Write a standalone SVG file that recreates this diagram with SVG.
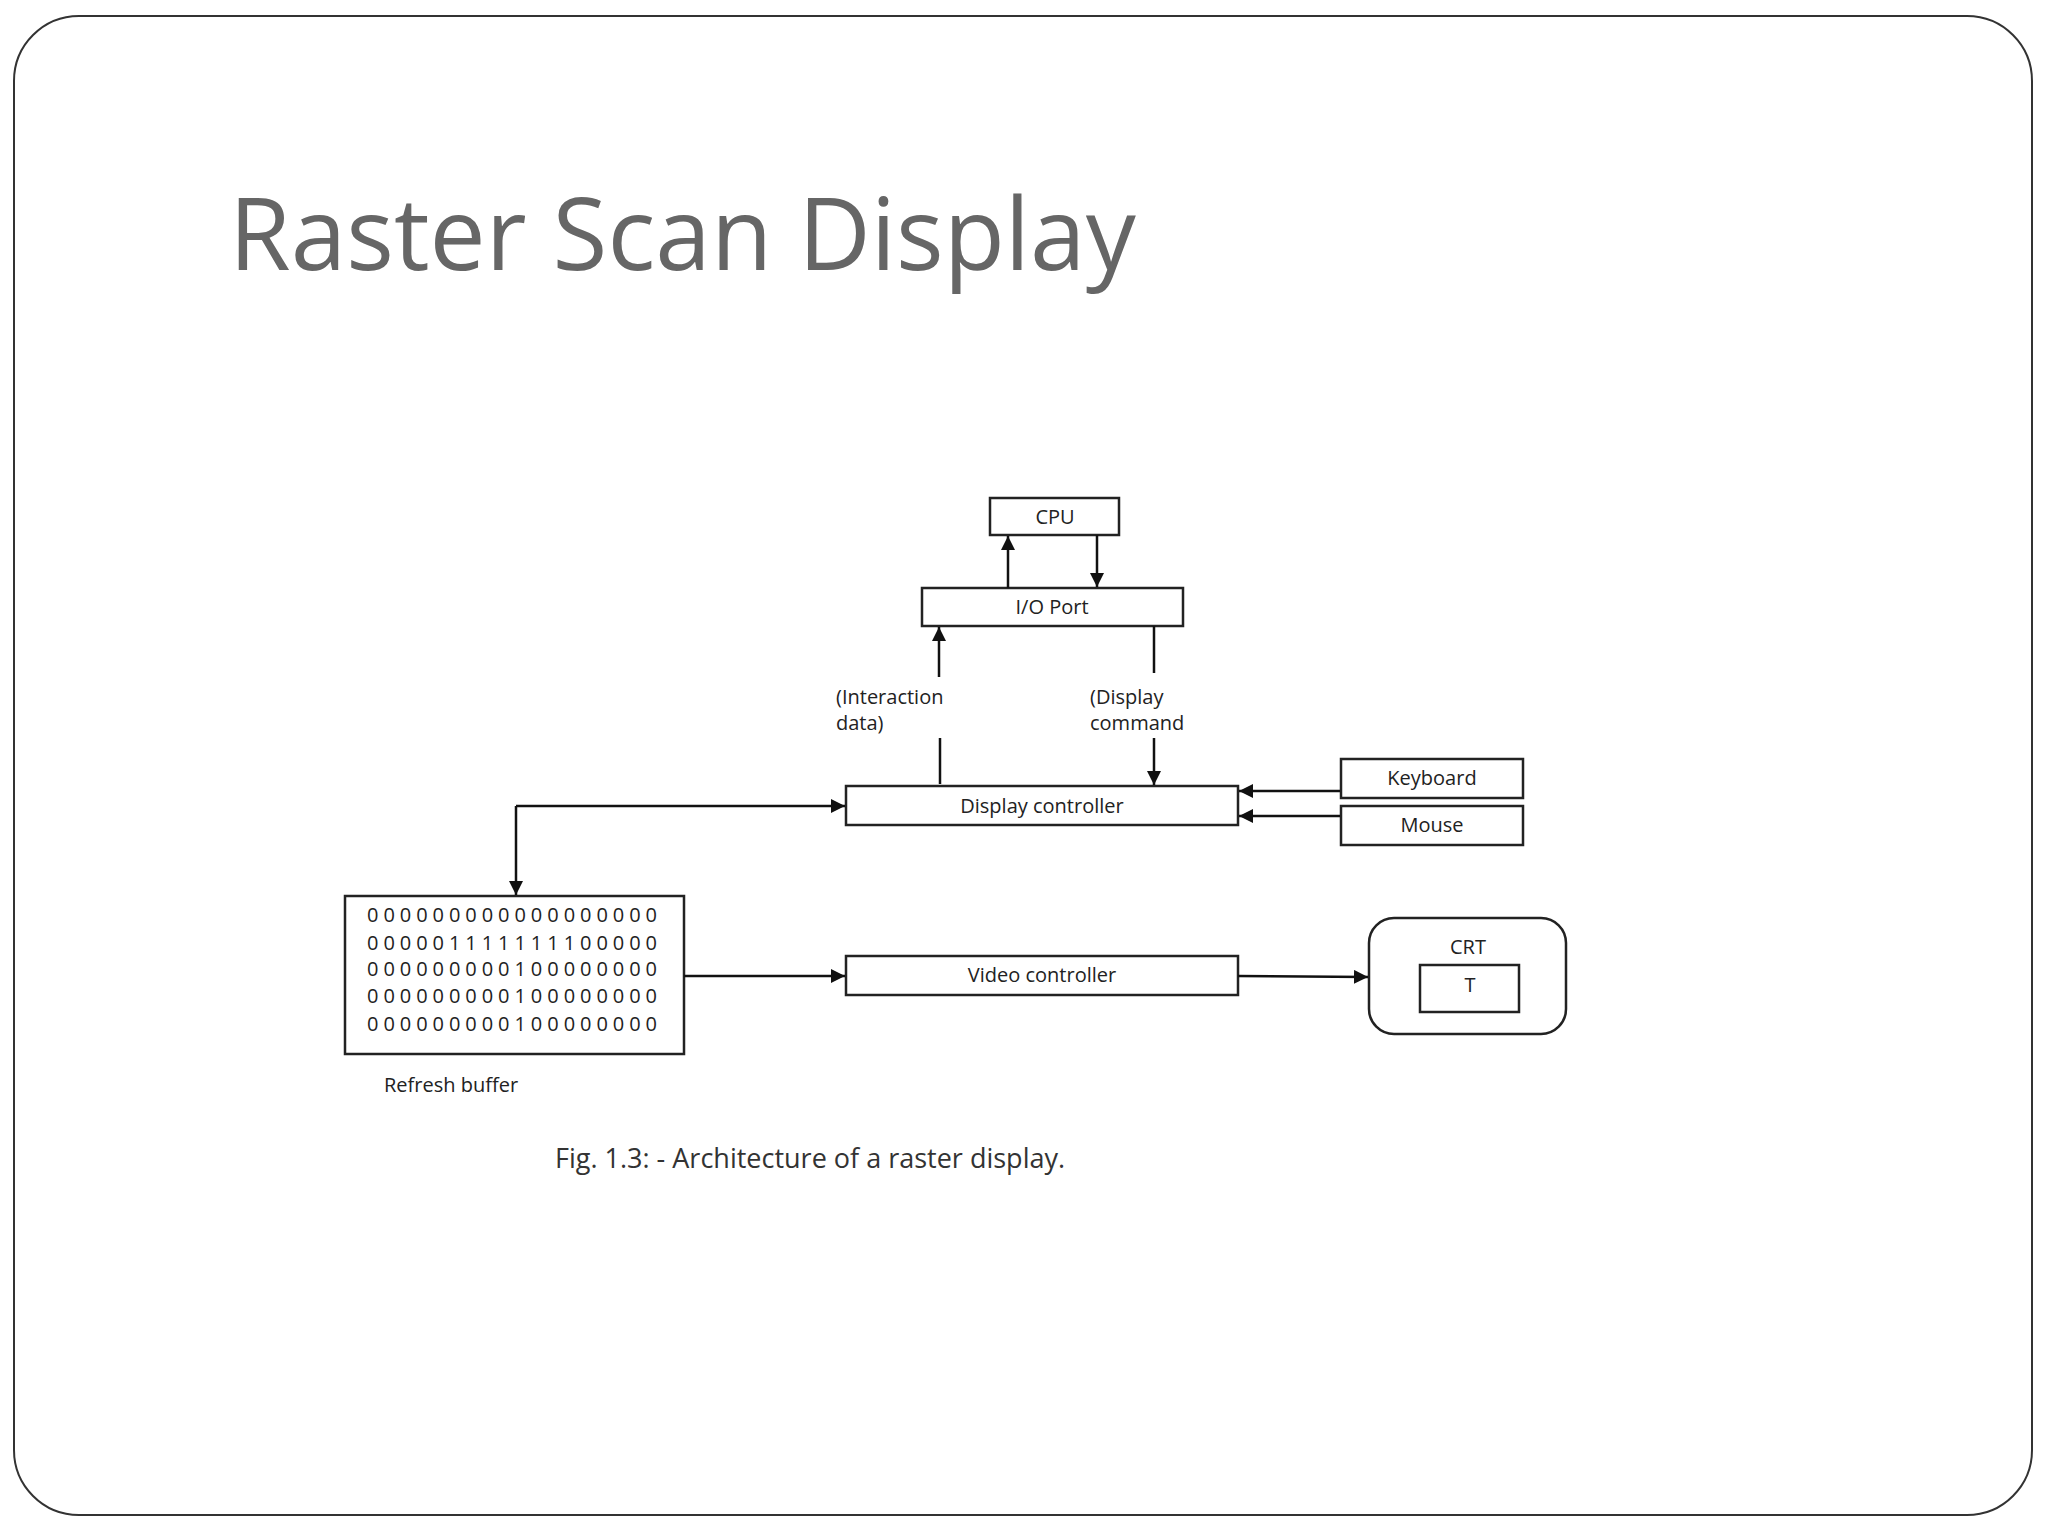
<svg xmlns="http://www.w3.org/2000/svg" width="2048" height="1536" viewBox="0 0 2048 1536">
<defs>
<style>
.b{fill:#fff;stroke:#222;stroke-width:2.5}
.c{stroke:#111;stroke-width:2.5;fill:none}
.t{font-family:"Open Sans","Liberation Sans",sans-serif;font-size:20px;fill:#222}
.m{text-anchor:middle}
</style>
<marker id="a" viewBox="0 0 10 10" refX="10" refY="5" markerWidth="9" markerHeight="9" markerUnits="userSpaceOnUse" orient="auto"><path d="M0,0L10,5L0,10z" fill="#111"/></marker>
<marker id="a2" viewBox="0 0 10 10" refX="10" refY="5" markerWidth="14" markerHeight="14" markerUnits="userSpaceOnUse" orient="auto"><path d="M0,0L10,5L0,10z" fill="#111"/></marker>
</defs>
<rect width="2048" height="1536" fill="#fff"/>
<rect x="14" y="16" width="2018" height="1499" rx="65" fill="#fff" stroke="#333" stroke-width="2"/>
<text x="229" y="270" font-family="'Open Sans','Liberation Sans',sans-serif" font-size="100" fill="#666">Raster Scan Display</text>
<g id="cpu"><rect class="b" x="990" y="498" width="129" height="37"/><text class="t m" x="1055" y="524">CPU</text></g>
<g id="io"><rect class="b" x="922" y="588" width="261" height="38"/><text class="t m" x="1052" y="614">I/O Port</text></g>
<g id="dc"><rect class="b" x="846" y="786" width="392" height="39"/><text class="t m" x="1042" y="813">Display controller</text></g>
<g id="kb"><rect class="b" x="1341" y="759" width="182" height="39"/><text class="t m" x="1432" y="785">Keyboard</text></g>
<g id="ms"><rect class="b" x="1341" y="806" width="182" height="39"/><text class="t m" x="1432" y="832">Mouse</text></g>
<g id="rb"><rect class="b" x="345" y="896" width="339" height="158"/>
<g class="t" font-size="20"><text x="367" y="922" textLength="290">000000000000000000</text><text x="367" y="950" textLength="290">000001111111100000</text><text x="367" y="976" textLength="290">000000000100000000</text><text x="367" y="1003" textLength="290">000000000100000000</text><text x="367" y="1031" textLength="290">000000000100000000</text></g>
<text class="t" x="384" y="1092">Refresh buffer</text></g>
<g id="vc"><rect class="b" x="846" y="956" width="392" height="39"/><text class="t m" x="1042" y="982">Video controller</text></g>
<g id="crt"><rect class="b" x="1369" y="918" width="197" height="116" rx="25"/><text class="t m" x="1468" y="954">CRT</text><rect class="b" x="1420" y="965" width="99" height="47"/><text class="t m" x="1470" y="992">T</text></g>
<g id="labels" class="t"><text x="836" y="704">(Interaction</text><text x="836" y="730">data)</text><text x="1090" y="704">(Display</text><text x="1090" y="730">command</text></g>
<text x="555" y="1168" font-family="'Open Sans','Liberation Sans',sans-serif" font-size="27" fill="#333">Fig. 1.3: - Architecture of a raster display.</text>
<g id="connectors">
<path class="c" d="M1008,588V536" marker-end="url(#a2)"/>
<path class="c" d="M1097,535V587" marker-end="url(#a2)"/>
<path class="c" d="M939,677V627" marker-end="url(#a2)"/>
<path class="c" d="M940,738V784"/>
<path class="c" d="M1154,626V673"/>
<path class="c" d="M1154,738V785" marker-end="url(#a2)"/>
<path class="c" d="M1340,791H1239" marker-end="url(#a2)"/>
<path class="c" d="M1340,816H1239" marker-end="url(#a2)"/>
<path class="c" d="M516,806H845" marker-end="url(#a2)"/>
<path class="c" d="M516,806V895" marker-end="url(#a2)"/>
<path class="c" d="M684,976H845" marker-end="url(#a2)"/>
<path class="c" d="M1238,976L1368,977" marker-end="url(#a2)"/>
</g>
</svg>
